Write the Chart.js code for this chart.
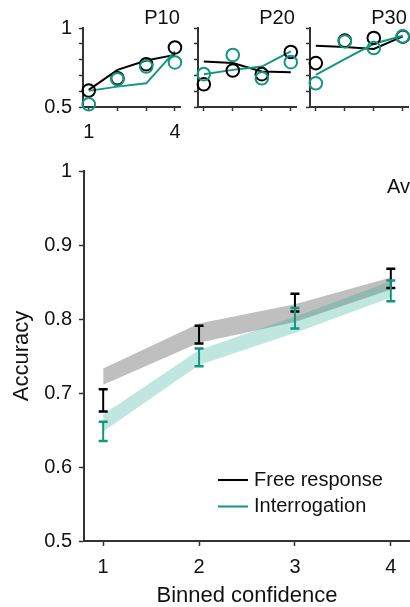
<!DOCTYPE html>
<html>
<head>
<meta charset="utf-8">
<title>Accuracy vs binned confidence</title>
<script src="https://cdn.jsdelivr.net/npm/chart.js@4.4.0/dist/chart.umd.min.js"></script>
<style>
  html, body { margin: 0; padding: 0; background: #fff; }
  body { width: 410px; height: 607px; overflow: hidden; position: relative; }
  canvas { position: absolute; top: 0; }
</style>
</head>
<body>
<canvas id="mainChart" width="440" height="607" style="left:0px"></canvas>
<canvas id="p10" width="190" height="145" style="left:0px"></canvas>
<canvas id="p20" width="190" height="145" style="left:115px"></canvas>
<canvas id="p30" width="190" height="145" style="left:227px"></canvas>
<script>
// Binned confidence levels and tick labels
const confidence = [1, 2, 3, 4];
const xTicks = [1, 2, 3, 4];
const xTickLabels = ['1', '2', '3', '4'];
const yTicks = [0.5, 0.6, 0.7, 0.8, 0.9, 1];
const yTickLabels = ['0.5', '0.6', '0.7', '0.8', '0.9', '1'];
const smallXTickLabels = ['1', '', '', '4'];
const smallYTickLabels = ['0.5', '', '', '', '', '1'];

// Average panel: data (mean +/- error) and model bands
const freeMean = [0.690, 0.779, 0.822, 0.855];
const freeErr = [0.015, 0.012, 0.012, 0.013];
const interMean = [0.648, 0.748, 0.801, 0.838];
const interErr = [0.013, 0.012, 0.014, 0.014];
const freeBandLow = [0.711, 0.768, 0.796, 0.840];
const freeBandHigh = [0.733, 0.794, 0.820, 0.856];
const interBandLow = [0.648, 0.738, 0.781, 0.829];
const interBandHigh = [0.671, 0.758, 0.803, 0.851];

// Single participants: data (circles) and model (lines)
const p10FreeData = [0.604, 0.682, 0.771, 0.877];
const p10FreeModel = [0.608, 0.735, 0.794, 0.830];
const p10InterData = [0.517, 0.676, 0.756, 0.782];
const p10InterModel = [0.602, 0.629, 0.650, 0.852];

const p20FreeData = [0.644, 0.731, 0.708, 0.848];
const p20FreeModel = [0.788, 0.778, 0.725, 0.720];
const p20InterData = [0.708, 0.829, 0.682, 0.784];
const p20InterModel = [0.708, 0.735, 0.756, 0.852];

const p30FreeData = [0.778, 0.920, 0.937, 0.945];
const p30FreeModel = [0.888, 0.879, 0.867, 0.947];
const p30InterData = [0.650, 0.915, 0.873, 0.947];
const p30InterModel = [0.703, 0.803, 0.900, 0.951];

const black = '#000000';
const teal = '#12977f';
const axisColor = '#333333';

Chart.defaults.font.family = '"Liberation Sans", Arial, sans-serif';
Chart.defaults.color = '#111111';

const pts = arr => arr.map((v, i) => ({ x: confidence[i], y: v }));

// vertical error bars with caps
const errorBarPlugin = {
    id: 'errorBars',
    afterDatasetsDraw(chart) {
        const { ctx, scales: { x, y } } = chart;
        chart.data.datasets.forEach(ds => {
            if (!ds.errors) return;
            ctx.save();
            ctx.strokeStyle = ds.borderColor;
            ds.data.forEach((pt, i) => {
                const px = x.getPixelForValue(pt.x);
                const top = y.getPixelForValue(pt.y + ds.errors[i]);
                const bot = y.getPixelForValue(pt.y - ds.errors[i]);
                ctx.lineWidth = 2;
                ctx.beginPath();
                ctx.moveTo(px, top);
                ctx.lineTo(px, bot);
                ctx.stroke();
                ctx.lineWidth = 2.5;
                ctx.beginPath();
                ctx.moveTo(px - 4.5, top);
                ctx.lineTo(px + 4.5, top);
                ctx.moveTo(px - 4.5, bot);
                ctx.lineTo(px + 4.5, bot);
                ctx.stroke();
            });
            ctx.restore();
        });
    }
};

// panel title and (optional) legend
const panelTextPlugin = {
    id: 'panelText',
    afterDraw(chart, args, opts) {
        const ctx = chart.ctx;
        ctx.save();
        ctx.fillStyle = '#111';
        ctx.font = '20px "Liberation Sans", Arial, sans-serif';
        ctx.textBaseline = 'middle';
        ctx.textAlign = opts.align || 'left';
        ctx.fillText(opts.text, opts.x, opts.y);
        if (opts.legend) {
            ctx.textAlign = 'left';
            opts.legend.forEach((item, i) => {
                const ly = opts.legendY + i * 26.5;
                ctx.strokeStyle = item.color;
                ctx.lineWidth = 2;
                ctx.beginPath();
                ctx.moveTo(opts.legendX, ly);
                ctx.lineTo(opts.legendX + 30, ly);
                ctx.stroke();
                ctx.fillText(item.label, opts.legendX + 36, ly);
            });
        }
        ctx.restore();
    }
};

const bandLine = (data) => ({
    data: pts(data),
    borderWidth: 0,
    borderColor: 'rgba(0,0,0,0)',
    pointRadius: 0,
    fill: false,
    tension: 0
});

new Chart(document.getElementById('mainChart'), {
    type: 'line',
    data: {
        datasets: [
            bandLine(interBandLow),
            Object.assign(bandLine(interBandHigh), { fill: '-1', backgroundColor: 'rgba(26,170,140,0.28)' }),
            bandLine(freeBandLow),
            Object.assign(bandLine(freeBandHigh), { fill: '-1', backgroundColor: 'rgba(128,128,128,0.5)' }),
            { label: 'Free response', data: pts(freeMean), errors: freeErr, borderColor: black, showLine: false, pointRadius: 0 },
            { label: 'Interrogation', data: pts(interMean), errors: interErr, borderColor: teal, showLine: false, pointRadius: 0 }
        ]
    },
    options: {
        responsive: false,
        animation: false,
        layout: { padding: { top: 171, right: 30, bottom: 0, left: 0 } },
        plugins: {
            legend: { display: false },
            tooltip: { enabled: false },
            panelText: {
                text: 'Average', x: 387, y: 187,
                legendX: 218, legendY: 480,
                legend: [
                    { label: 'Free response', color: black },
                    { label: 'Interrogation', color: teal }
                ]
            }
        },
        scales: {
            x: {
                type: 'linear', min: 0.8, max: 4.2,
                afterBuildTicks: s => { s.ticks = xTicks.map(v => ({ value: v })); },
                afterFit: s => { s.height = 66; },
                ticks: { autoSkip: false, maxRotation: 0, padding: 9, color: '#111', font: { size: 20 },
                    callback: (v, i) => xTickLabels[i] },
                grid: { drawOnChartArea: false, tickLength: 5, tickWidth: 1.5, tickColor: axisColor },
                border: { color: axisColor, width: 2 },
                title: { display: true, text: 'Binned confidence', color: '#111',
                    font: { size: 22, lineHeight: 1.05 }, padding: { top: 0, bottom: 0 } }
            },
            y: {
                min: 0.5, max: 1,
                afterBuildTicks: s => { s.ticks = yTicks.map(v => ({ value: v })); },
                afterFit: s => { s.width = 84; },
                ticks: { autoSkip: false, padding: 7, color: '#111', font: { size: 20 },
                    callback: (v, i) => yTickLabels[i] },
                grid: { drawOnChartArea: false, tickLength: 5, tickWidth: 1.5, tickColor: axisColor },
                border: { color: axisColor, width: 2 },
                title: { display: true, text: 'Accuracy', color: '#111',
                    font: { size: 22, lineHeight: 1.05 }, padding: { top: 10, bottom: 0 } }
            }
        }
    },
    plugins: [errorBarPlugin, panelTextPlugin]
});

function makePanel(id, name, freeData, freeModel, interData, interModel, showLabels) {
    const circles = (data, color) => ({
        data: pts(data), showLine: false, clip: false,
        pointRadius: 6.3, pointBorderWidth: 2,
        pointBorderColor: color, pointBackgroundColor: 'rgba(0,0,0,0)', borderColor: color
    });
    const modelLine = (data, color) => ({
        data: pts(data), borderColor: color, borderWidth: 2, pointRadius: 0, tension: 0, fill: false
    });
    return new Chart(document.getElementById(id), {
        type: 'line',
        data: {
            datasets: [
                circles(interData, teal),
                circles(freeData, black),
                modelLine(interModel, teal),
                modelLine(freeModel, black)
            ]
        },
        options: {
            responsive: false,
            animation: false,
            layout: { padding: { top: 28, right: 8.4, bottom: 0, left: 0 } },
            plugins: {
                legend: { display: false },
                tooltip: { enabled: false },
                panelText: { text: name, align: 'center', x: 162, y: 18 }
            },
            scales: {
                x: {
                    type: 'linear', min: 0.8, max: 4.2,
                    afterBuildTicks: s => { s.ticks = xTicks.map(v => ({ value: v })); },
                    afterFit: s => { s.height = 38; },
                    ticks: { autoSkip: false, maxRotation: 0, padding: 9, color: '#111', font: { size: 20 },
                        callback: (v, i) => showLabels ? smallXTickLabels[i] : '' },
                    grid: { drawOnChartArea: false, tickLength: 4, tickWidth: 1.5, tickColor: axisColor },
                    border: { color: axisColor, width: 2 }
                },
                y: {
                    min: 0.5, max: 1,
                    afterBuildTicks: s => { s.ticks = yTicks.map(v => ({ value: v })); },
                    afterFit: s => { s.width = 83; },
                    ticks: { autoSkip: false, padding: 7, color: '#111', font: { size: 20 },
                        callback: (v, i) => showLabels ? smallYTickLabels[i] : '' },
                    grid: { drawOnChartArea: false, tickLength: 4, tickWidth: 1.5, tickColor: axisColor },
                    border: { color: axisColor, width: 2 }
                }
            }
        },
        plugins: [panelTextPlugin]
    });
}

makePanel('p10', 'P10', p10FreeData, p10FreeModel, p10InterData, p10InterModel, true);
makePanel('p20', 'P20', p20FreeData, p20FreeModel, p20InterData, p20InterModel, false);
makePanel('p30', 'P30', p30FreeData, p30FreeModel, p30InterData, p30InterModel, false);
</script>
</body>
</html>
